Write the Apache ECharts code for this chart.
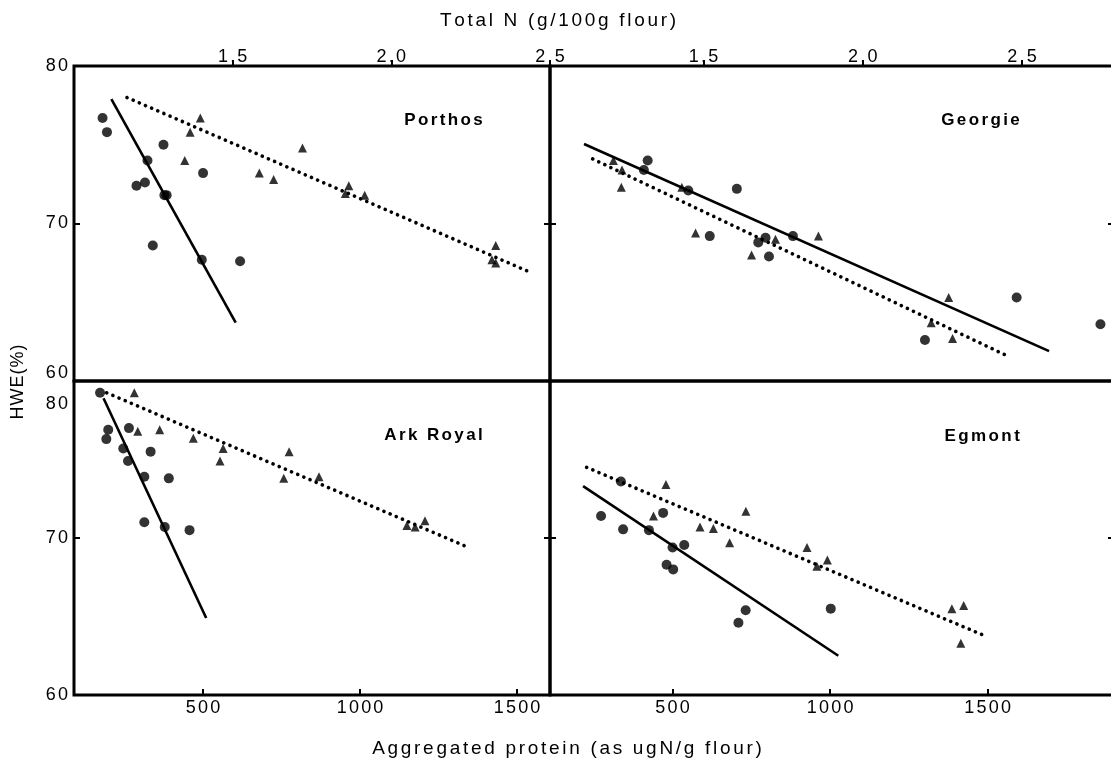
<!DOCTYPE html>
<html>
<head>
<meta charset="utf-8">
<script src="https://cdn.jsdelivr.net/npm/echarts@6/dist/echarts.min.js"></script>
<style>
  html, body { margin: 0; background: #fff; }
  #chart { width: 1111px; height: 758px; }
</style>
</head>
<body>
<div id="chart"></div>
<script>
// tick labels
const aggTicks = [500, 1000, 1500]
const totalNTicks = [1.5, 2.0, 2.5]
const hweTicks = [60, 70, 80]
const panelNames = ['Porthos', 'Georgie', 'Ark Royal', 'Egmont']

// circles: aggregated protein (ugN/g flour) vs HWE(%)
const porthosAgg = [[180, 76.7], [194, 75.8], [374, 75.0], [323, 74.0], [288, 72.4], [315, 72.6], [500, 73.2], [377, 71.8], [384, 71.8], [340, 68.6], [496, 67.7], [618, 67.6]]
const georgieAgg = [[421, 74.0], [409, 73.4], [550, 72.1], [704, 72.2], [618, 69.2], [772, 68.8], [795, 69.1], [882, 69.2], [806, 67.9], [1301, 62.6], [1592, 65.3], [1858, 63.6]]
const arkRoyalAgg = [[172, 79.25], [198, 76.9], [192, 76.3], [264, 77.0], [246, 75.7], [261, 74.9], [333, 75.5], [313, 73.9], [391, 73.8], [313, 71.0], [378, 70.7], [457, 70.5]]
const egmontAgg = [[273, 71.4], [336, 73.6], [343, 70.55], [425, 70.5], [470, 71.6], [500, 69.4], [537, 69.55], [481, 68.3], [502, 68.0], [732, 65.4], [709, 64.6], [1002, 65.5]]

// triangles: total N (g/100g flour) vs HWE(%)
const porthosN = [[1.398, 76.7], [1.366, 75.8], [1.349, 74.0], [1.720, 74.8], [1.584, 73.2], [1.629, 72.8], [1.866, 72.4], [1.855, 71.9], [1.916, 71.8], [2.329, 68.6], [2.317, 67.7], [2.329, 67.5]]
const georgieN = [[1.217, 74.0], [1.244, 73.4], [1.242, 72.3], [1.432, 72.3], [1.475, 69.4], [1.726, 69.0], [1.651, 68.0], [1.861, 69.2], [2.270, 65.3], [2.215, 63.7], [2.282, 62.7]]
const arkRoyalN = [[1.190, 79.25], [1.201, 76.8], [1.270, 76.9], [1.376, 76.35], [1.470, 75.7], [1.460, 74.9], [1.678, 75.5], [1.661, 73.8], [1.772, 73.9], [2.049, 70.8], [2.075, 70.7], [2.106, 71.1]]
const egmontN = [[1.382, 73.4], [1.343, 71.4], [1.489, 70.7], [1.531, 70.6], [1.582, 69.7], [1.633, 71.7], [1.825, 69.4], [1.856, 68.2], [1.889, 68.6], [2.280, 65.5], [2.317, 65.7], [2.308, 63.3]]

// regression lines (end points)
const porthosAggFit = [[208, 77.9], [604, 63.7]]
const georgieAggFit = [[219, 75.05], [1695, 61.9]]
const arkRoyalAggFit = [[183, 78.9], [510, 64.9]]
const egmontAggFit = [[216, 73.3], [1026, 62.5]]
const porthosNFit = [[1.167, 78.0], [2.438, 66.9]]
const georgieNFit = [[1.152, 74.1], [2.448, 61.65]]
const arkRoyalNFit = [[1.103, 79.25], [2.243, 69.4]]
const egmontNFit = [[1.133, 74.5], [2.380, 63.8]]

const aggData = [porthosAgg, georgieAgg, arkRoyalAgg, egmontAgg]
const nData = [porthosN, georgieN, arkRoyalN, egmontN]
const aggFits = [porthosAggFit, georgieAggFit, arkRoyalAggFit, egmontAggFit]
const nFits = [porthosNFit, georgieNFit, arkRoyalNFit, egmontNFit]

// axis limits per panel
const aggRange = [[89, 1605], [111, 1901], [89, 1605], [111, 1901]]
const nRange = [[1.0, 2.5], [1.018, 2.789], [1.0, 2.5], [1.018, 2.789]]

const FONT = '"Liberation Sans", Arial, sans-serif'
const boxes = [
  {left: 74, top: 66, width: 476, height: 315},
  {left: 550, top: 66, width: 564, height: 315},
  {left: 74, top: 381, width: 476, height: 314},
  {left: 550, top: 381, width: 564, height: 314}
]

// letter-spaced text via one rich token per character
const spaced = (s, key) => String(s).split('').map(c => '{' + key + '|' + c + '}').join('')
const richStyle = (size, gap, weight) => ({
  fontSize: size, fontFamily: FONT, fontWeight: weight || 'normal', color: '#000',
  padding: [0, gap / 2, 0, gap / 2]
})
const tickRich = {d: richStyle(18, 2.2)}
const tickFont = {fontSize: 18, fontFamily: FONT, color: '#000', rich: tickRich}

const chart = echarts.init(document.getElementById('chart'))

const grid = [], xAxis = [], yAxis = [], series = []
boxes.forEach((b, i) => {
  const row = i < 2 ? 0 : 1
  const col = i % 2
  grid.push(Object.assign({
    show: true, borderColor: '#000', borderWidth: 3, backgroundColor: 'transparent',
    outerBoundsMode: 'none', containLabel: false
  }, b))
  // bottom axis: aggregated protein
  xAxis.push({
    type: 'value', gridIndex: i, position: 'bottom', min: aggRange[i][0], max: aggRange[i][1],
    show: row === 1,
    axisLine: {show: false}, splitLine: {show: false},
    axisTick: {inside: true, length: 6, customValues: aggTicks, lineStyle: {color: '#000', width: 2}},
    axisLabel: Object.assign({customValues: aggTicks, margin: 4, formatter: v => spaced(v, 'd')}, tickFont)
  })
  // top axis: total N
  xAxis.push({
    type: 'value', gridIndex: i, position: 'top', min: nRange[i][0], max: nRange[i][1],
    show: row === 0,
    axisLine: {show: false}, splitLine: {show: false},
    axisTick: {inside: false, length: 6, customValues: totalNTicks, lineStyle: {color: '#000', width: 2}},
    axisLabel: Object.assign({customValues: totalNTicks, margin: 0, formatter: v => spaced(v.toFixed(1), 'd')}, tickFont)
  })
  yAxis.push({
    type: 'value', gridIndex: i, min: 60, max: 80, interval: 10,
    axisLine: {show: false}, splitLine: {show: false},
    axisTick: {inside: true, length: 6, lineStyle: {color: '#000', width: 2}},
    axisLabel: Object.assign({
      show: col === 0, margin: 5,
      customValues: row === 0 ? [70, 80] : [60, 70],
      formatter: v => spaced(v, 'd')
    }, tickFont)
  })
  yAxis.push({
    type: 'value', gridIndex: i, position: 'right', min: 60, max: 80, interval: 10,
    axisLine: {show: false}, splitLine: {show: false}, axisLabel: {show: false},
    axisTick: {inside: true, length: 6, lineStyle: {color: '#000', width: 2}}
  })

  series.push({
    type: 'scatter', xAxisIndex: 2 * i, yAxisIndex: 2 * i, data: aggData[i],
    symbol: 'circle', symbolSize: 10, itemStyle: {color: '#000'}
  })
  series.push({
    type: 'scatter', xAxisIndex: 2 * i + 1, yAxisIndex: 2 * i, data: nData[i],
    symbol: 'triangle', symbolSize: 9, itemStyle: {color: '#000'}
  })
  series.push({
    type: 'line', xAxisIndex: 2 * i, yAxisIndex: 2 * i, data: aggFits[i],
    symbol: 'none', lineStyle: {color: '#000', width: 2.6}
  })
  series.push({
    type: 'line', xAxisIndex: 2 * i + 1, yAxisIndex: 2 * i, data: nFits[i],
    symbol: 'none', lineStyle: {color: '#000', width: 3.6, type: [0.1, 6.6], cap: 'round'}
  })
})

const labelPos = [[484, 120], [1021, 120], [484, 435], [1021, 436]]
const graphic = [
  {type: 'text', x: 558, y: 21, style: {text: spaced('Total N (g/100g flour)', 't'), rich: {t: richStyle(19, 2.7)}, align: 'center', verticalAlign: 'middle'}},
  {type: 'text', x: 567, y: 749, style: {text: spaced('Aggregated protein (as ugN/g flour)', 't'), rich: {t: richStyle(19, 2.7)}, align: 'center', verticalAlign: 'middle'}},
  {type: 'text', x: 18, y: 382, rotation: Math.PI / 2, style: {text: spaced('HWE(%)', 'h'), rich: {h: richStyle(18, 1)}, align: 'center', verticalAlign: 'middle'}},
  // shifted 60 / 80 labels at the row boundary
  {type: 'text', x: 69, y: 373, style: {text: spaced(hweTicks[0], 'd'), rich: tickRich, align: 'right', verticalAlign: 'middle'}},
  {type: 'text', x: 69, y: 404, style: {text: spaced(hweTicks[2], 'd'), rich: tickRich, align: 'right', verticalAlign: 'middle'}}
]
panelNames.forEach((name, i) => {
  graphic.push({
    type: 'text', x: labelPos[i][0], y: labelPos[i][1],
    style: {text: spaced(name, 'p'), rich: {p: richStyle(17, 2.4, 'bold')}, align: 'right', verticalAlign: 'middle'}
  })
})

chart.setOption({
  animation: false,
  backgroundColor: '#fff',
  grid, xAxis, yAxis, series, graphic
})
</script>
</body>
</html>
